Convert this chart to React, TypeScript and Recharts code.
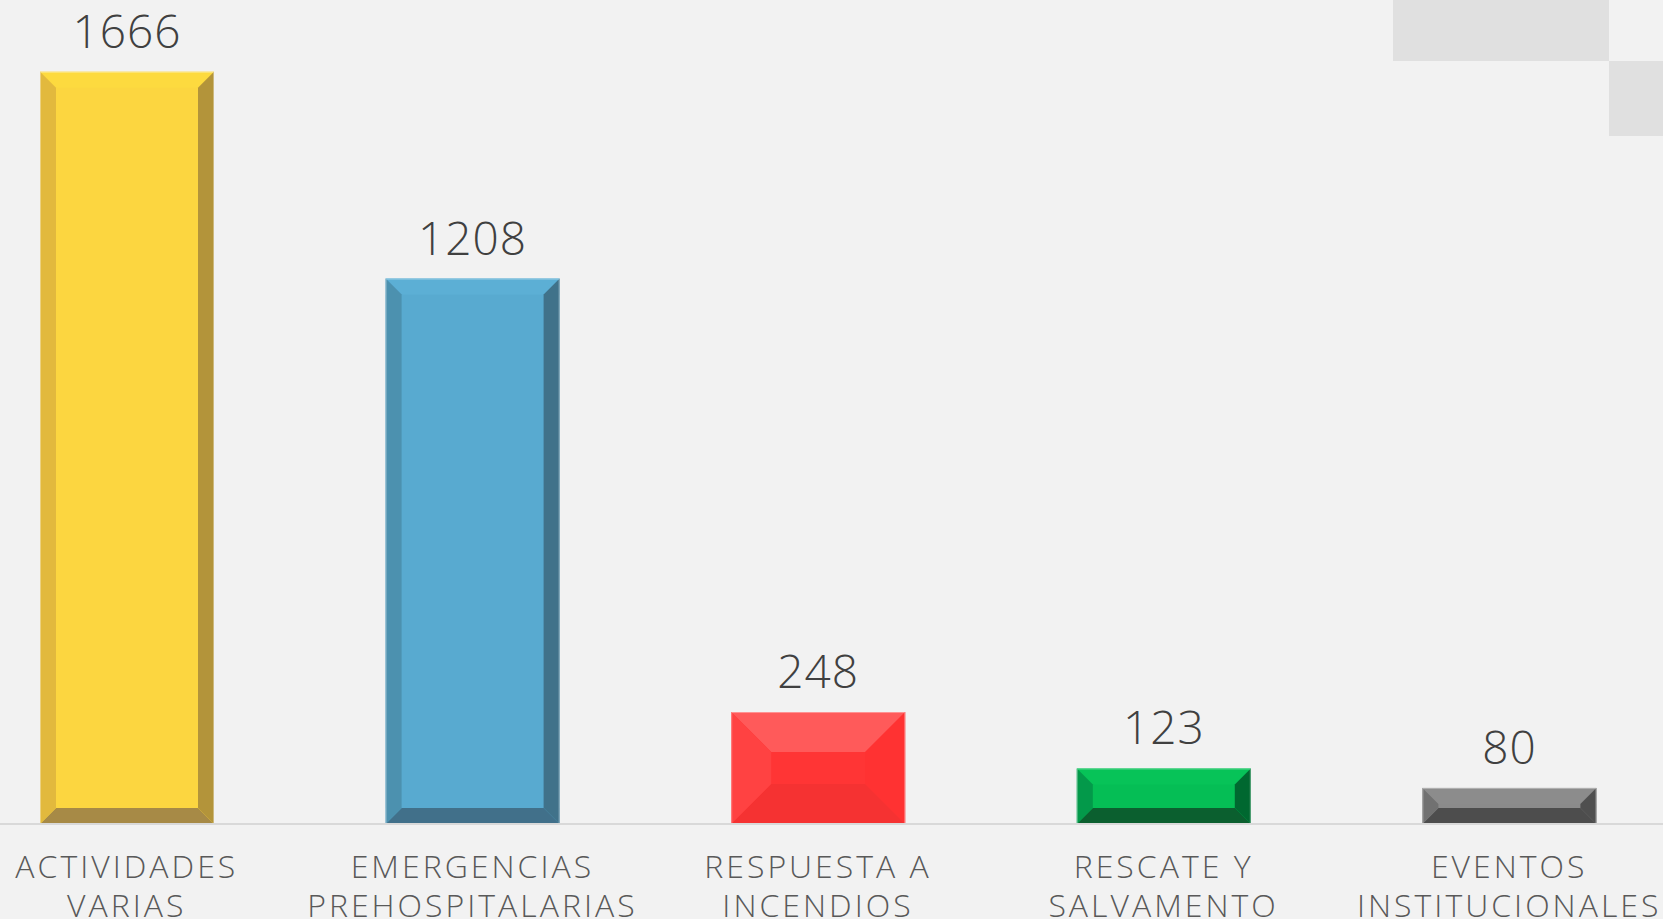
import { BarChart, Bar, XAxis, YAxis, LabelList, Cell } from 'recharts'

const categories = [
  'ACTIVIDADES VARIAS',
  'EMERGENCIAS PREHOSPITALARIAS',
  'RESPUESTA A INCENDIOS',
  'RESCATE Y SALVAMENTO',
  'EVENTOS INSTITUCIONALES',
]
const tickLines = [
  ['ACTIVIDADES', 'VARIAS'],
  ['EMERGENCIAS', 'PREHOSPITALARIAS'],
  ['RESPUESTA A', 'INCENDIOS'],
  ['RESCATE Y', 'SALVAMENTO'],
  ['EVENTOS', 'INSTITUCIONALES'],
]
const values = [1666, 1208, 248, 123, 80]

// bevel shades per bar: face, top, left, right, bottom
const shades = [
  { face: '#fcd640', top: '#fdda3f', left: '#e2b93d', right: '#b3943a', bottom: '#a78a46', bevel: 16 },
  { face: '#58aad0', top: '#5cafd5', left: '#4c91af', right: '#40728a', bottom: '#41708a', bevel: 16 },
  { face: '#ff3535', top: '#ff5a5a', left: '#ff4242', right: '#ff3232', bottom: '#f53232', bevel: 40 },
  { face: '#05be55', top: '#07c358', left: '#03994a', right: '#006830', bottom: '#0b5f2f', bevel: 16 },
  { face: '#8b8b8b', top: '#8c8c8c', left: '#717171', right: '#4f4f4f', bottom: '#4d4d4d', bevel: 16 },
]

const data = categories.map((name, i) => ({ name, value: values[i], idx: i }))

const FONT = '"Open Sans", sans-serif'

function BevelBar(props: any) {
  const { x, y, width: w, height: h, payload } = props
  const s = shades[payload.idx]
  const b = Math.min(s.bevel, h / 2, w / 2)
  const pts = (arr: number[][]) => arr.map((p) => p.join(',')).join(' ')
  return (
    <g>
      <rect x={x} y={y} width={w} height={h} fill={s.face} />
      <polygon fill={s.top} points={pts([[x, y], [x + w, y], [x + w - b, y + b], [x + b, y + b]])} />
      <polygon fill={s.bottom} points={pts([[x, y + h], [x + w, y + h], [x + w - b, y + h - b], [x + b, y + h - b]])} />
      <polygon fill={s.left} points={pts([[x, y], [x + b, y + b], [x + b, y + h - b], [x, y + h]])} />
      <polygon fill={s.right} points={pts([[x + w, y], [x + w - b, y + b], [x + w - b, y + h - b], [x + w, y + h]])} />
      <rect x={x + 0.5} y={y + 0.5} width={w - 1} height={h - 1} fill="none" stroke="rgba(255,255,255,0.35)" strokeWidth={1} />
    </g>
  )
}

function Tick(props: any) {
  const { x, y, payload } = props
  const lines = tickLines[payload.index] || [payload.value]
  return (
    <g>
      {lines.map((l, i) => (
        <text
          key={i}
          x={x}
          y={y + 46 + i * 39}
          textAnchor="middle"
          fill="#595959"
          fontSize={32}
          fontWeight={300}
          letterSpacing={3}
          fontFamily={FONT}
        >
          {l}
        </text>
      ))}
    </g>
  )
}

function ValueLabel(props: any) {
  const { x, y, width, value } = props
  return (
    <text x={x + width / 2} y={y - 24} textAnchor="middle" fill="#404040" fontSize={46} fontWeight={300} letterSpacing={1} fontFamily={FONT}>
      {value}
    </text>
  )
}

export default function App() {
  return (
    <div style={{ position: 'fixed', left: 0, top: 0, width: 1663, height: 919, background: '#f2f2f2', overflow: 'hidden' }}>
      <div style={{ position: 'absolute', left: 1393, top: 0, width: 216, height: 61, background: '#e0e0e0' }} />
      <div style={{ position: 'absolute', left: 1609, top: 61, width: 54, height: 75, background: '#e0e0e0' }} />
      <div style={{ position: 'absolute', left: -46, top: 0 }}>
        <BarChart width={1728} height={919} data={data} margin={{ top: 0, right: 0, bottom: 0, left: 0 }}>
          <XAxis
            dataKey="name"
            height={95}
            interval={0}
            tickLine={false}
            axisLine={{ stroke: '#d9d9d9', strokeWidth: 2 }}
            tick={<Tick />}
          />
          <YAxis hide domain={[0, 1825]} />
          <Bar dataKey="value" barSize={174} shape={<BevelBar />} isAnimationActive={false}>
            {data.map((d) => (
              <Cell key={d.name} fill={shades[d.idx].face} />
            ))}
            <LabelList dataKey="value" content={<ValueLabel />} />
          </Bar>
        </BarChart>
      </div>
    </div>
  )
}
